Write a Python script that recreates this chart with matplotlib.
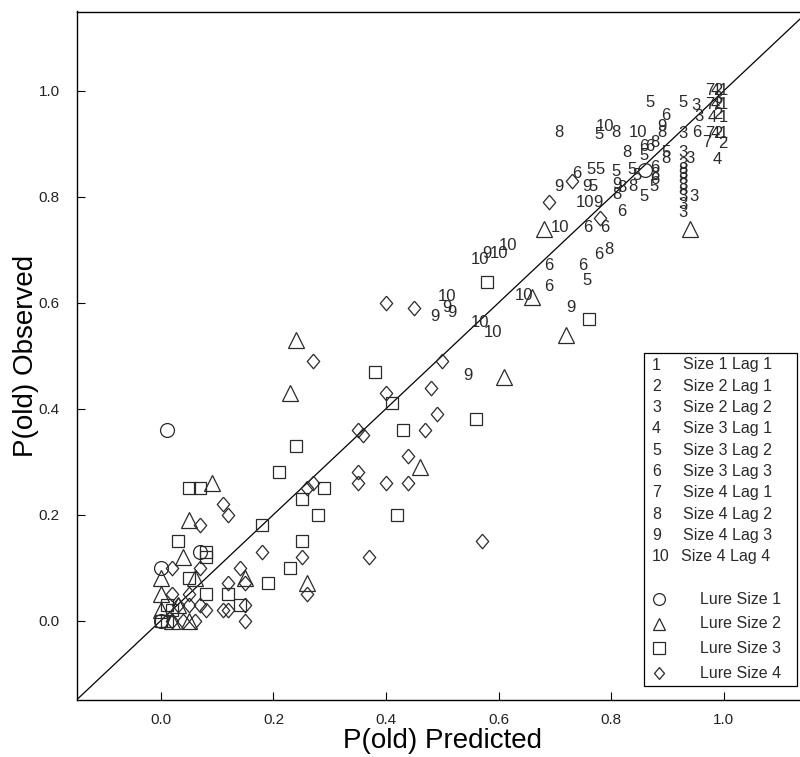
import matplotlib
matplotlib.use("Agg")
import matplotlib.pyplot as plt
from matplotlib.patches import Rectangle
from matplotlib.lines import Line2D

plt.rcParams['font.family'] = ['Liberation Sans', 'DejaVu Sans']

# target conditions: label -> predicted / observed
cond_labels = ["1", "2", "3", "4", "5", "6", "7", "8", "9", "10"]
cond_names = ["Size 1 Lag 1", "Size 2 Lag 1", "Size 2 Lag 2", "Size 3 Lag 1",
              "Size 3 Lag 2", "Size 3 Lag 3", "Size 4 Lag 1", "Size 4 Lag 2",
              "Size 4 Lag 3", "Size 4 Lag 4"]
target_pred = [
    [1.0, 1.0, 1.0, 1.0],
    [0.99, 0.99, 0.99, 0.99, 0.998],
    [0.95, 0.957, 0.927, 0.94, 0.927, 0.927, 0.927, 0.927, 0.927, 0.927, 0.927, 0.948, 0.99],
    [0.985, 0.985, 0.98, 0.985, 0.988],
    [0.869, 0.927, 0.778, 0.858, 0.898, 0.765, 0.78, 0.808, 0.838, 0.847, 0.768, 0.877, 0.858, 0.757],
    [0.898, 0.952, 0.858, 0.868, 0.877, 0.877, 0.739, 0.819, 0.758, 0.789, 0.689, 0.689, 0.75, 0.778],
    [0.975, 0.975, 0.975, 0.97],
    [0.707, 0.808, 0.89, 0.828, 0.877, 0.898, 0.877, 0.819, 0.81, 0.838, 0.927, 0.927, 0.927, 0.796],
    [0.89, 0.707, 0.758, 0.81, 0.776, 0.728, 0.58, 0.508, 0.517, 0.487, 0.545],
    [0.789, 0.848, 0.753, 0.709, 0.567, 0.60, 0.617, 0.646, 0.508, 0.567, 0.59],
]
target_obs = [
    [1.0, 0.975, 0.95, 0.92],
    [1.0, 0.975, 0.955, 0.92, 0.90],
    [0.972, 0.951, 0.919, 0.872, 0.883, 0.862, 0.842, 0.822, 0.80, 0.785, 0.77, 0.80, 0.985],
    [1.0, 0.975, 0.95, 0.92, 0.87],
    [0.979, 0.979, 0.917, 0.879, 0.883, 0.851, 0.851, 0.847, 0.851, 0.841, 0.819, 0.819, 0.80, 0.642],
    [0.953, 0.921, 0.896, 0.896, 0.855, 0.832, 0.845, 0.772, 0.743, 0.743, 0.67, 0.63, 0.67, 0.692],
    [1.0, 0.975, 0.92, 0.902],
    [0.921, 0.921, 0.921, 0.883, 0.902, 0.873, 0.842, 0.817, 0.804, 0.819, 0.852, 0.832, 0.812, 0.70],
    [0.932, 0.819, 0.819, 0.823, 0.789, 0.592, 0.694, 0.592, 0.581, 0.574, 0.462],
    [0.932, 0.921, 0.789, 0.743, 0.681, 0.694, 0.709, 0.613, 0.611, 0.562, 0.543],
]

# lure conditions
lure1_pred = [0.01, 0.0, 0.07, 0.86, 0.0]
lure1_obs = [0.36, 0.10, 0.13, 0.85, 0.0]

lure2_pred = [0.24, 0.23, 0.46, 0.09, 0.05, 0.04, 0.26, 0.61, 0.72, 0.66, 0.68, 0.94,
              0.0, 0.0, 0.06, 0.0, 0.05, 0.02, 0.03, 0.15]
lure2_obs = [0.53, 0.43, 0.29, 0.26, 0.19, 0.12, 0.07, 0.46, 0.54, 0.61, 0.74, 0.74,
             0.08, 0.05, 0.08, 0.02, 0.0, 0.0, 0.03, 0.08]

lure3_pred = [0.58, 0.76, 0.56, 0.38, 0.41, 0.43, 0.24, 0.21, 0.29, 0.25, 0.28, 0.42,
              0.18, 0.05, 0.07, 0.03, 0.25, 0.08, 0.08, 0.23, 0.19, 0.05, 0.08, 0.01,
              0.12, 0.14, 0.0, 0.01, 0.02]
lure3_obs = [0.64, 0.57, 0.38, 0.47, 0.41, 0.36, 0.33, 0.28, 0.25, 0.23, 0.20, 0.20,
             0.18, 0.25, 0.25, 0.15, 0.15, 0.13, 0.12, 0.10, 0.07, 0.08, 0.05, 0.03,
             0.05, 0.03, 0.0, 0.0, 0.02]

lure4_pred = [0.40, 0.45, 0.27, 0.50, 0.40, 0.48, 0.49, 0.47, 0.35, 0.36, 0.44, 0.35,
              0.35, 0.40, 0.44, 0.26, 0.27, 0.11, 0.12, 0.07, 0.18, 0.25, 0.37, 0.57,
              0.26, 0.14, 0.02, 0.07, 0.12, 0.15, 0.15, 0.12, 0.15, 0.11, 0.08, 0.06,
              0.04, 0.02, 0.05, 0.03, 0.05, 0.07, 0.02, 0.73, 0.69, 0.78]
lure4_obs = [0.60, 0.59, 0.49, 0.49, 0.43, 0.44, 0.39, 0.36, 0.36, 0.35, 0.31, 0.28,
             0.26, 0.26, 0.26, 0.25, 0.26, 0.22, 0.20, 0.18, 0.13, 0.12, 0.12, 0.15,
             0.05, 0.10, 0.10, 0.10, 0.07, 0.07, 0.03, 0.02, 0.0, 0.02, 0.02, 0.0,
             0.0, 0.0, 0.03, 0.03, 0.05, 0.03, 0.05, 0.83, 0.79, 0.76]

lure_names = ["Lure Size 1", "Lure Size 2", "Lure Size 3", "Lure Size 4"]
diamond = [(0, 1), (0.85, 0), (0, -1), (-0.85, 0), (0, 1)]
lure_markers = ["o", "^", "s", diamond]
lure_sizes = [10, 11.5, 8.5, 10.5]

W, H = 800, 757
fig = plt.figure(figsize=(W / 100, H / 100), dpi=100)
# axes runs a little past the right edge, like the cropped original
ax = fig.add_axes([76.5 / W, 57 / H, (808 - 76.5) / W, (700 - 11.5) / H])

ax.plot([-0.15, 1.15], [-0.15, 1.15], color="black", lw=0.9, zorder=1)

ink = "#2a2a2a"
for lab, xs, ys in zip(cond_labels, target_pred, target_obs):
    for x, y in zip(xs, ys):
        ax.text(x, y, lab, fontsize=12, color=ink, ha="center", va="center", zorder=3)

lure_px = [lure1_pred, lure2_pred, lure3_pred, lure4_pred]
lure_py = [lure1_obs, lure2_obs, lure3_obs, lure4_obs]
for xs, ys, m, ms in zip(lure_px, lure_py, lure_markers, lure_sizes):
    ax.plot(xs, ys, linestyle="none", marker=m, markersize=ms, markerfacecolor="none",
            markeredgecolor=ink, markeredgewidth=0.9, zorder=2)

ax.set_xlim(-0.15, 1.15)
ax.set_ylim(-0.15, 1.15)
ticks = [0.0, 0.2, 0.4, 0.6, 0.8, 1.0]
ax.set_xticks(ticks)
ax.set_yticks(ticks)
ax.set_xticklabels([f"{t:.1f}" for t in ticks])
ax.set_yticklabels([f"{t:.1f}" for t in ticks])
ax.tick_params(direction="in", length=6, width=0.8, labelsize=11, colors="black",
               labelcolor="#222222")
ax.tick_params(axis="y", pad=12)
ax.tick_params(axis="x", pad=9)
ax.spines["right"].set_visible(False)
for s in ["left", "bottom", "top"]:
    ax.spines[s].set_linewidth(1.0)

ax.set_xlabel("P(old) Predicted", fontsize=20, labelpad=1)
ax.set_ylabel("P(old) Observed", fontsize=20, labelpad=0)


# legend drawn in pixel positions of the figure
def fx(x):
    return x / W


def fy(y):
    return 1 - y / H


fig.patches.append(Rectangle((fx(644), fy(686)), fx(797) - fx(644), fy(353) - fy(686),
                             transform=fig.transFigure, facecolor="white",
                             edgecolor="black", lw=0.9, zorder=5))
for i, (lab, name) in enumerate(zip(cond_labels, cond_names)):
    yy = 365 + 21.3 * i
    fig.text(fx(652), fy(yy), lab, fontsize=11.5, color=ink, va="center", zorder=6)
    fig.text(fx(683 if lab != "10" else 681), fy(yy), name, fontsize=11.5, color=ink,
             va="center", zorder=6)
for i, (name, m) in enumerate(zip(lure_names, lure_markers)):
    yy = 599 + 24.7 * i
    fig.lines.append(Line2D([fx(659)], [fy(yy)], transform=fig.transFigure, marker=m,
                            markersize=8.5, markerfacecolor="none", markeredgecolor=ink,
                            markeredgewidth=0.9, linestyle="none", zorder=6))
    fig.text(fx(700), fy(yy), name, fontsize=11.5, color=ink, va="center", zorder=6)

fig.savefig("out.png", dpi=100)
